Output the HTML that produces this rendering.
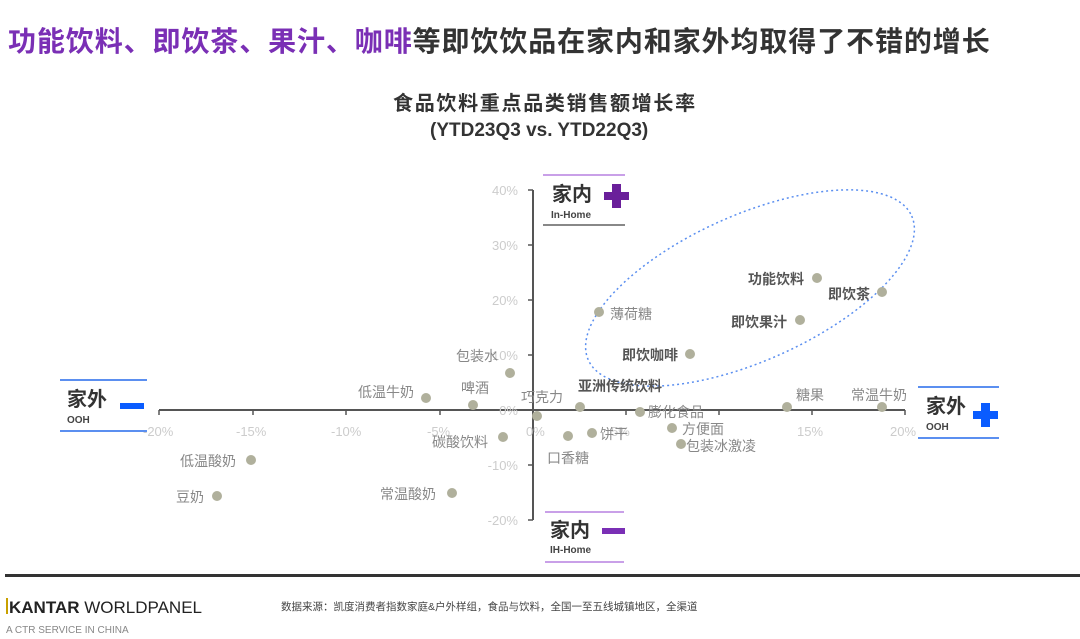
<!DOCTYPE html>
<html><head><meta charset="utf-8">
<style>
body{margin:0;width:1080px;height:639px;background:#fff;position:relative;overflow:hidden;font-family:"Liberation Sans","Noto Sans CJK SC",sans-serif;}
.a{position:absolute;white-space:nowrap;}
</style></head><body>
<div class="a" style="left:8px;top:24px;font-size:28px;font-weight:bold;letter-spacing:0.9px;color:#333;line-height:36px;"><span style="color:#7a2fb5">功能饮料、即饮茶、果汁、咖啡</span>等即饮饮品在家内和家外均取得了不错的增长</div>
<div class="a" style="left:393px;top:92px;font-size:20px;font-weight:bold;letter-spacing:1.7px;color:#333;line-height:24px;">食品饮料重点品类销售额增长率</div>
<div class="a" style="left:430px;top:119px;font-size:19px;font-weight:bold;color:#333;line-height:24px;">(YTD23Q3 vs. YTD22Q3)</div>

<svg class="a" style="left:0;top:0" width="1080" height="639" xmlns="http://www.w3.org/2000/svg" font-family="Liberation Sans, Noto Sans CJK SC, sans-serif">
<g stroke="#555" stroke-width="2" fill="none">
<line x1="159" y1="410" x2="905" y2="410"/>
<line x1="533" y1="190" x2="533" y2="520"/>
</g>
<g stroke="#555" stroke-width="1.5">
<line x1="159" y1="410" x2="159" y2="415"/><line x1="253" y1="410" x2="253" y2="415"/><line x1="346" y1="410" x2="346" y2="415"/><line x1="440" y1="410" x2="440" y2="415"/><line x1="626" y1="410" x2="626" y2="415"/><line x1="719" y1="410" x2="719" y2="415"/><line x1="812" y1="410" x2="812" y2="415"/><line x1="905" y1="410" x2="905" y2="415"/>
<line x1="528" y1="190" x2="533" y2="190"/><line x1="528" y1="245" x2="533" y2="245"/><line x1="528" y1="300" x2="533" y2="300"/><line x1="528" y1="355" x2="533" y2="355"/><line x1="528" y1="465" x2="533" y2="465"/><line x1="528" y1="520" x2="533" y2="520"/>
</g>
<g fill="#ccc" font-size="13">
<text x="143" y="436">-20%</text><text x="236" y="436">-15%</text><text x="331" y="436">-10%</text><text x="427" y="436">-5%</text><text x="526" y="436">0%</text><text x="611" y="436">5%</text><text x="797" y="436">15%</text><text x="890" y="436">20%</text>
<g text-anchor="end"><text x="518" y="195">40%</text><text x="518" y="250">30%</text><text x="518" y="305">20%</text><text x="518" y="360">10%</text><text x="518" y="415">0%</text><text x="518" y="470">-10%</text><text x="518" y="525">-20%</text></g>
</g>
<ellipse cx="750" cy="288" rx="177" ry="73" transform="rotate(-24 750 288)" fill="none" stroke="#5b8ff0" stroke-width="1.5" stroke-dasharray="2,3"/>
<g fill="#b0b09c">
<circle cx="426" cy="398" r="5"/><circle cx="473" cy="405" r="5"/><circle cx="510" cy="373" r="5"/><circle cx="537" cy="416" r="5"/><circle cx="503" cy="437" r="5"/><circle cx="251" cy="460" r="5"/><circle cx="217" cy="496" r="5"/><circle cx="452" cy="493" r="5"/><circle cx="568" cy="436" r="5"/><circle cx="592" cy="433" r="5"/><circle cx="580" cy="407" r="5"/><circle cx="640" cy="412" r="5"/><circle cx="672" cy="428" r="5"/><circle cx="681" cy="444" r="5"/><circle cx="787" cy="407" r="5"/><circle cx="882" cy="407" r="5"/><circle cx="599" cy="312" r="5"/><circle cx="690" cy="354" r="5"/><circle cx="800" cy="320" r="5"/><circle cx="817" cy="278" r="5"/><circle cx="882" cy="292" r="5"/>
</g>
<g fill="#888" font-size="14">
<text x="358" y="397">低温牛奶</text><text x="461" y="393">啤酒</text><text x="456" y="361">包装水</text><text x="521" y="402">巧克力</text><text x="432" y="447">碳酸饮料</text><text x="180" y="466">低温酸奶</text><text x="176" y="502">豆奶</text><text x="380" y="499">常温酸奶</text><text x="547" y="463">口香糖</text><text x="600" y="439">饼干</text><text x="648" y="417">膨化食品</text><text x="682" y="434">方便面</text><text x="686" y="451">包装冰激凌</text><text x="796" y="400">糖果</text><text x="851" y="400">常温牛奶</text><text x="610" y="319">薄荷糖</text>
</g>
<g fill="#555" font-size="14" font-weight="bold">
<text x="578" y="391">亚洲传统饮料</text><text x="622" y="360">即饮咖啡</text><text x="731" y="327">即饮果汁</text><text x="748" y="284">功能饮料</text><text x="828" y="299">即饮茶</text>
</g>
<line x1="543" y1="175" x2="625" y2="175" stroke="#c9a0e8" stroke-width="2"/>
<line x1="543" y1="225" x2="625" y2="225" stroke="#888" stroke-width="2"/>
<text x="552" y="201" font-size="20" font-weight="bold" fill="#333">家内</text>
<text x="551" y="218" font-size="10" font-weight="bold" fill="#444">In-Home</text>
<rect x="604" y="192" width="25" height="8" fill="#6a1f9a"/><rect x="612" y="184" width="9" height="24" fill="#6a1f9a"/>

<line x1="60" y1="380" x2="147" y2="380" stroke="#5b8ff0" stroke-width="2"/>
<line x1="60" y1="431" x2="147" y2="431" stroke="#5b8ff0" stroke-width="2"/>
<text x="67" y="406" font-size="20" font-weight="bold" fill="#333">家外</text>
<text x="67" y="423" font-size="10" font-weight="bold" fill="#444">OOH</text>
<rect x="120" y="403" width="24" height="6" fill="#0a5cff"/>

<line x1="918" y1="387" x2="999" y2="387" stroke="#5b8ff0" stroke-width="2"/>
<line x1="918" y1="438" x2="999" y2="438" stroke="#5b8ff0" stroke-width="2"/>
<text x="926" y="413" font-size="20" font-weight="bold" fill="#333">家外</text>
<text x="926" y="430" font-size="10" font-weight="bold" fill="#444">OOH</text>
<rect x="973" y="411" width="25" height="8" fill="#0a5cff"/><rect x="981" y="403" width="9" height="24" fill="#0a5cff"/>

<line x1="545" y1="512" x2="624" y2="512" stroke="#c9a0e8" stroke-width="2"/>
<line x1="545" y1="562" x2="624" y2="562" stroke="#c9a0e8" stroke-width="2"/>
<text x="550" y="537" font-size="20" font-weight="bold" fill="#333">家内</text>
<text x="550" y="553" font-size="10" font-weight="bold" fill="#444">IH-Home</text>
<rect x="602" y="528" width="23" height="6" fill="#7a2fb5"/>

<rect x="5" y="574" width="1075" height="3" fill="#333"/>
<rect x="6" y="598" width="2" height="16" fill="#c8a000"/>
<text x="9" y="613" font-size="17" fill="#222"><tspan font-weight="bold">KANTAR</tspan> WORLDPANEL</text>
<text x="6" y="633" font-size="10" fill="#888">A CTR SERVICE IN CHINA</text>
<text x="281" y="610" font-size="10.5" fill="#444">数据来源：凯度消费者指数家庭&amp;户外样组，食品与饮料，全国一至五线城镇地区，全渠道</text>
</svg>
</body></html>
